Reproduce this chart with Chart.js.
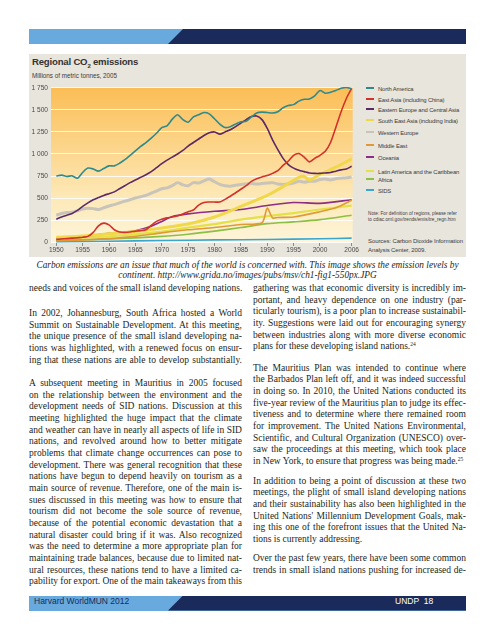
<!DOCTYPE html>
<html>
<head>
<meta charset="utf-8">
<script src="https://cdn.jsdelivr.net/npm/chart.js@4.4.0/dist/chart.umd.min.js"></script>
<style>
  body { margin: 0; width: 495px; height: 640px; position: relative; overflow: hidden; background: #fff;
         font-family: "Liberation Serif", "Times New Roman", serif; color: #231f20; }
  .band { position: absolute; left: 29px; width: 437px; height: 15px; background: #68aadd; }
  .band .dark { position: absolute; inset: 0; background: #1a2a5b;
                clip-path: polygon(154px 0, 100% 0, 100% 100%, 139px 100%); }
  .band span { position: absolute; top: 0; line-height: 15px; font: 8.5px "Liberation Sans", sans-serif; }
  #fig { position: absolute; left: 29px; top: 54px; width: 437px; height: 203px; background: #e8e5dd;
         overflow: hidden; font-family: "Liberation Sans", sans-serif; color: #3b3b3b; }
  #fig h1 { position: absolute; left: 3px; top: 2px; margin: 0; font-size: 9.6px; letter-spacing: -0.2px;
            font-weight: bold; color: #333; white-space: nowrap; }
  #fig h1 sub { font-size: 6px; }
  #fig .sub { position: absolute; left: 3px; top: 18px; font-size: 6.3px; white-space: nowrap; }
  #chartBox { position: absolute; left: 0; top: 26px; width: 330px; height: 178px; }
  .leg { position: absolute; left: 337px; font-size: 5.9px; letter-spacing: -0.15px; white-space: nowrap; line-height: 8px; }
  .leg i { display: inline-block; width: 8px; height: 2px; vertical-align: middle; margin-right: 4px; position: relative; top: -1px; }
  .note { position: absolute; left: 339px; font-size: 4.7px; line-height: 6.2px; white-space: nowrap; }
  .src { position: absolute; left: 339px; font-size: 6px; letter-spacing: -0.1px; line-height: 9.4px; white-space: nowrap; }
  .cap { position: absolute; left: 0; width: 495px; top: 261px; text-align: center; font-style: italic;
         font-size: 9.3px; line-height: 9.7px; }
  .col { position: absolute; width: 213px; font-size: 9.5px; line-height: 11.67px; }
  .ln { white-space: nowrap; text-align: left; }
  .ln.j { text-align: justify; text-align-last: justify; }
  sup { font-size: 5.5px; vertical-align: 3px; line-height: 0; }
</style>
</head>
<body>

<div class="band" style="top:29px"><div class="dark"></div></div>

<div id="fig">
  <h1>Regional CO<sub>2</sub> emissions</h1>
  <div class="sub">Millions of metric tonnes, 2005</div>
  <div id="chartBox"><canvas id="chart"></canvas></div>
  <div id="legend"></div>
  <div class="note" style="top:157px">Note: For definition of regions, please refer<br>to cdiac.ornl.gov/trends/emis/tre_regn.htm</div>
  <div class="src" style="top:183px">Sources: Carbon Dioxide Information<br>Analysis Center, 2009.</div>
</div>

<div class="cap">Carbon emissions are an issue that much of the world is concerned with. This image shows the emission levels by<br>continent. http://www.grida.no/images/pubs/msv/ch1-fig1-550px.JPG</div>

<div class="col" style="left:29px;top:283px">
  <div class="ln j">needs and voices of the small island developing nations.</div>
</div>
<div class="col" style="left:29px;top:308px">
  <div class="ln j">In 2002, Johannesburg, South Africa hosted a World</div>
  <div class="ln j">Summit on Sustainable Development. At this meeting,</div>
  <div class="ln j">the unique presence of the small island developing na-</div>
  <div class="ln j">tions was highlighted, with a renewed focus on ensur-</div>
  <div class="ln j">ing that these nations are able to develop substantially.</div>
</div>
<div class="col" style="left:29px;top:378px">
  <div class="ln j">A subsequent meeting in Mauritius in 2005 focused</div>
  <div class="ln j">on the relationship between the environment and the</div>
  <div class="ln j">development needs of SID nations. Discussion at this</div>
  <div class="ln j">meeting highlighted the huge impact that the climate</div>
  <div class="ln j">and weather can have in nearly all aspects of life in SID</div>
  <div class="ln j">nations, and revolved around how to better mitigate</div>
  <div class="ln j">problems that climate change occurrences can pose to</div>
  <div class="ln j">development. There was general recognition that these</div>
  <div class="ln j">nations have begun to depend heavily on tourism as a</div>
  <div class="ln j">main source of revenue. Therefore, one of the main is-</div>
  <div class="ln j">sues discussed in this meeting was how to ensure that</div>
  <div class="ln j">tourism did not become the sole source of revenue,</div>
  <div class="ln j">because of the potential economic devastation that a</div>
  <div class="ln j">natural disaster could bring if it was. Also recognized</div>
  <div class="ln j">was the need to determine a more appropriate plan for</div>
  <div class="ln j">maintaining trade balances, because due to limited nat-</div>
  <div class="ln j">ural resources, these nations tend to have a limited ca-</div>
  <div class="ln j">pability for export. One of the main takeaways from this</div>
</div>

<div class="col" style="left:253px;top:283px">
  <div class="ln j">gathering was that economic diversity is incredibly im-</div>
  <div class="ln j">portant, and heavy dependence on one industry (par-</div>
  <div class="ln j">ticularly tourism), is a poor plan to increase sustainabil-</div>
  <div class="ln j">ity. Suggestions were laid out for encouraging synergy</div>
  <div class="ln j">between industries along with more diverse economic</div>
  <div class="ln">plans for these developing island nations.<sup>24</sup></div>
</div>
<div class="col" style="left:253px;top:362.5px">
  <div class="ln j">The Mauritius Plan was intended to continue where</div>
  <div class="ln j">the Barbados Plan left off, and it was indeed successful</div>
  <div class="ln j">in doing so. In 2010, the United Nations conducted its</div>
  <div class="ln j">five-year review of the Mauritius plan to judge its effec-</div>
  <div class="ln j">tiveness and to determine where there remained room</div>
  <div class="ln j">for improvement. The United Nations Environmental,</div>
  <div class="ln j">Scientific, and Cultural Organization (UNESCO) over-</div>
  <div class="ln j">saw the proceedings at this meeting, which took place</div>
  <div class="ln">in New York, to ensure that progress was being made.<sup>25</sup></div>
</div>
<div class="col" style="left:253px;top:475.5px">
  <div class="ln j">In addition to being a point of discussion at these two</div>
  <div class="ln j">meetings, the plight of small island developing nations</div>
  <div class="ln j">and their sustainability has also been highlighted in the</div>
  <div class="ln j">United Nations' Millennium Development Goals, mak-</div>
  <div class="ln j">ing this one of the forefront issues that the United Na-</div>
  <div class="ln">tions is currently addressing.</div>
</div>
<div class="col" style="left:253px;top:553px">
  <div class="ln j">Over the past few years, there have been some common</div>
  <div class="ln j">trends in small island nations pushing for increased de-</div>
</div>

<div class="band" style="top:595.5px"><div class="dark"></div>
  <span style="left:5px;color:#1a2a5b">Harvard WorldMUN 2012</span>
  <span style="left:366px;color:#fff">UNDP&nbsp; 18</span>
</div>

<script>
// annual series, 1950-2006
const years = [1950,1951,1952,1953,1954,1955,1956,1957,1958,1959,
  1960,1961,1962,1963,1964,1965,1966,1967,1968,1969,
  1970,1971,1972,1973,1974,1975,1976,1977,1978,1979,
  1980,1981,1982,1983,1984,1985,1986,1987,1988,1989,
  1990,1991,1992,1993,1994,1995,1996,1997,1998,1999,
  2000,2001,2002,2003,2004,2005,2006];

const northAmerica = [750,760,745,752,725,790,840,830,805,835,
  865,865,895,935,985,1035,1085,1130,1180,1235,
  1300,1320,1395,1445,1390,1360,1420,1445,1470,1455,
  1400,1340,1300,1310,1340,1365,1370,1420,1465,1475,
  1470,1465,1480,1525,1550,1560,1600,1620,1625,1660,
  1720,1690,1700,1720,1745,1755,1740];

const eastAsia = [30,35,40,45,50,55,65,110,185,215,
  195,140,115,110,115,125,130,140,190,235,
  260,275,285,300,320,345,365,420,450,455,
  455,455,485,520,560,600,640,690,720,740,
  755,780,810,870,920,985,1005,965,910,950,
  985,1030,1130,1300,1480,1630,1745];

const easternEurope = [260,285,305,325,360,405,445,480,505,530,
  550,570,605,640,675,705,735,765,800,845,
  890,930,965,1000,1040,1090,1130,1170,1210,1240,
  1250,1225,1250,1275,1310,1350,1390,1425,1430,1390,
  1290,1160,1050,950,880,840,815,800,785,780,
  780,785,790,805,820,830,860];

const westernEurope = [305,325,335,340,355,375,385,380,370,390,
  410,425,445,465,480,500,515,530,555,580,
  605,615,640,675,650,640,675,670,695,715,
  685,655,640,635,645,655,660,665,660,665,
  670,675,660,655,660,670,690,680,690,690,
  710,715,705,720,725,730,740];

// smoother series, read at fewer years
const seAsiaYears = [1950,1955,1960,1965,1970,1975,1980,1985,1990,1993,1996,1997,1998,2000,2003,2006];
const seAsia = [55,70,95,120,160,205,285,405,530,630,735,745,705,770,850,945];

const middleEastYears = [1950,1955,1960,1965,1970,1975,1980,1985,1989,1990,1991,1992,1995,2000,2003,2006];
const middleEast = [15,25,40,65,105,140,165,200,220,385,275,280,285,345,390,475];

const oceaniaYears = [1950,1955,1959,1962,1965,1968,1970,1972,1975,1980,1985,1990,1995,2000,2006];
const oceania = [40,60,95,110,130,180,235,290,320,350,370,415,450,440,480];

const latinYears = [1950,1960,1970,1975,1980,1985,1990,1995,2000,2006];
const latinAmerica = [35,65,120,165,205,255,295,330,370,415];

const africaYears = [1950,1960,1970,1975,1980,1985,1990,1995,2000,2006];
const africa = [20,35,65,90,125,165,210,230,255,305];

const sidsYears = [1950,1960,1970,1980,1990,2000,2006];
const sids = [5,10,18,25,30,38,45];

const xTicks = [1950,1955,1960,1965,1970,1975,1980,1985,1990,1995,2000,2006];
const yTicks = [0,250,500,750,1000,1250,1500,1750];

const pairs = (xs, ys) => xs.map((x, i) => ({ x: x, y: ys[i] }));

const series = [
  { label: 'North America', data: pairs(years, northAmerica), color: '#2f8a8c', w: 1.6 },
  { label: 'East Asia (including China)', data: pairs(years, eastAsia), color: '#d2322b', w: 1.6 },
  { label: 'Eastern Europe and Central Asia', data: pairs(years, easternEurope), color: '#5b2a66', w: 1.6 },
  { label: 'South East Asia (including India)', data: pairs(seAsiaYears, seAsia), color: '#f1d84a', w: 3 },
  { label: 'Western Europe', data: pairs(years, westernEurope), color: '#c9c4ba', w: 3 },
  { label: 'Middle East', data: pairs(middleEastYears, middleEast), color: '#e09a35', w: 1.6 },
  { label: 'Oceania', data: pairs(oceaniaYears, oceania), color: '#8c2d88', w: 1.6 },
  { label: 'Latin America and the Caribbean', data: pairs(latinYears, latinAmerica), color: '#e4e048', w: 2.2 },
  { label: 'Africa', data: pairs(africaYears, africa), color: '#8dbf45', w: 1.6 },
  { label: 'SIDS', data: pairs(sidsYears, sids), color: '#3aa6cf', w: 1.6 }
];

// legend rows sit at uneven heights in the original
const legendTops = [31, 41.5, 52, 62.5, 75, 87.5, 100, 114, 122, 132.5];
const legend = document.getElementById('legend');
series.forEach((s, i) => {
  const d = document.createElement('div');
  d.className = 'leg';
  d.style.top = legendTops[i] + 'px';
  d.innerHTML = '<i style="background:' + s.color + '"></i>' + s.label;
  legend.appendChild(d);
});

// orange-to-cream wash behind the plot
const plotWash = {
  id: 'plotWash',
  beforeDraw(chart) {
    const a = chart.chartArea, ctx = chart.ctx;
    const g = ctx.createLinearGradient(0, a.top, 0, a.bottom);
    g.addColorStop(0, '#fbbd55');
    g.addColorStop(0.35, '#fcd386');
    g.addColorStop(0.7, '#fde8b6');
    g.addColorStop(1, '#fdf5da');
    ctx.save();
    ctx.fillStyle = g;
    ctx.fillRect(a.left, a.top, a.right - a.left, a.bottom - a.top);
    ctx.restore();
  }
};

new Chart(document.getElementById('chart'), {
  type: 'line',
  data: {
    datasets: series.map(s => ({
      label: s.label,
      data: s.data,
      borderColor: s.color,
      backgroundColor: s.color,
      borderWidth: s.w,
      pointRadius: 0,
      tension: 0.25,
      fill: false
    }))
  },
  options: {
    responsive: true,
    maintainAspectRatio: false,
    animation: false,
    layout: { padding: { top: 7, right: 6, left: 0, bottom: 0 } },
    plugins: { legend: { display: false }, tooltip: { enabled: false } },
    scales: {
      x: {
        type: 'linear',
        min: 1949,
        max: 2006.2,
        afterBuildTicks: axis => { axis.ticks = xTicks.map(v => ({ value: v })); },
        afterFit: axis => { axis.height = 15; },
        border: { display: false },
        grid: { drawOnChartArea: false, drawTicks: true, tickLength: 3, color: '#8a8a8a' },
        ticks: { padding: 0, maxRotation: 0, color: '#4a4a4a', font: { family: 'Liberation Sans', size: 6.6 },
                 callback: v => String(v) }
      },
      y: {
        min: -10,
        max: 1760,
        afterBuildTicks: axis => { axis.ticks = yTicks.map(v => ({ value: v })); },
        afterFit: axis => { axis.width = 22; },
        border: { display: false },
        grid: { color: 'rgba(255,255,255,0.85)', lineWidth: 1, drawTicks: false },
        ticks: { padding: 3, color: '#4a4a4a', font: { family: 'Liberation Sans', size: 6.6 },
                 callback: v => { const s = String(v); return s.length > 3 ? s.slice(0, -3) + ' ' + s.slice(-3) : s; } }
      }
    }
  },
  plugins: [plotWash]
});

// squeeze word spacing on lines that come out wider than the column
document.querySelectorAll('.ln').forEach(d => {
  const over = d.scrollWidth - d.clientWidth;
  if (over > 0) {
    const gaps = (d.textContent.match(/ /g) || []).length || 1;
    d.style.wordSpacing = (-over / gaps - 0.05) + 'px';
  }
});
</script>
</body>
</html>
